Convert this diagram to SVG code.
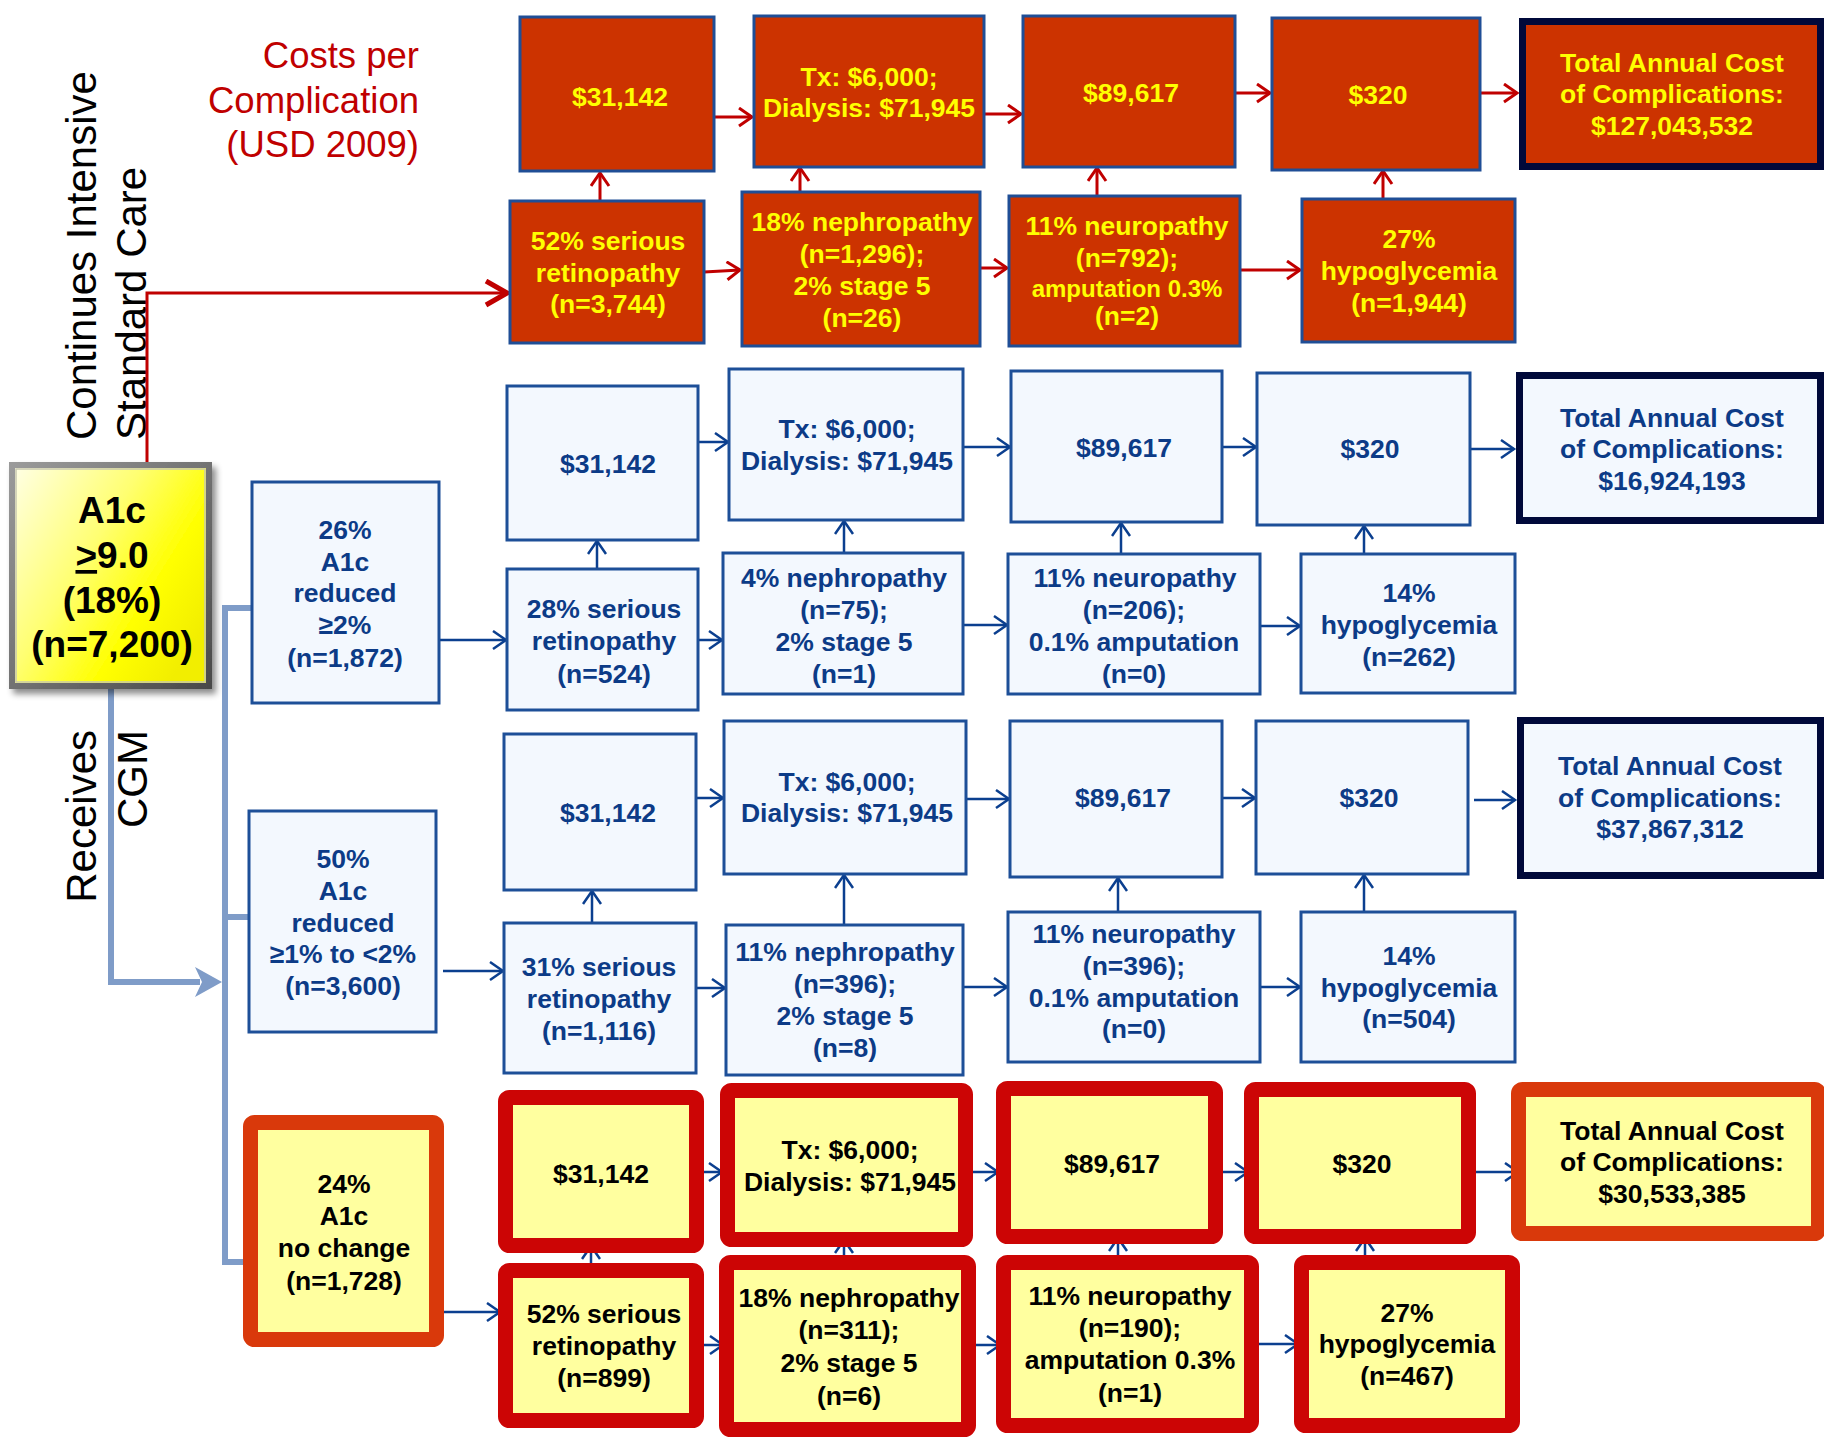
<svg xmlns="http://www.w3.org/2000/svg" width="1824" height="1440" viewBox="0 0 1824 1440">
<defs>
<style>
text{font-family:"Liberation Sans",Arial,sans-serif}
.bx text{font-weight:bold;font-size:26.5px;text-anchor:middle}
.rd rect{fill:#cc3300;stroke:#1f4e96;stroke-width:3}
.rd text{fill:#ffff00}
.rdt rect{fill:#cc3300;stroke:#00093a;stroke-width:7}
.rdt text{fill:#ffff00}
.bl rect{fill:#f3f8fe;stroke:#1d4f98;stroke-width:3}
.bl text{fill:#0c3b87}
.blt rect{fill:#f3f8fe;stroke:#00093a;stroke-width:7}
.blt text{fill:#0c3b87}
.yr rect{fill:#ffff9f;stroke:#cc0505;stroke-width:15}
.yo rect{fill:#ffff9f;stroke:#d9390b;stroke-width:15}
.yr text,.yo text{fill:#000}
.lbl{font-size:42px;fill:#000}
.cost{font-size:36.5px;fill:#c00000;text-anchor:end}
.ca{fill:none;stroke:#0b3f8f;stroke-width:2.5}
.cr{fill:none;stroke:#c00000;stroke-width:3}
.lb{fill:none;stroke:#7f9cc8;stroke-width:6}
</style>
<marker id="ab" markerUnits="userSpaceOnUse" markerWidth="18" markerHeight="22" refX="15" refY="10" orient="auto">
<path d="M2,1 L15,10 L2,19" fill="none" stroke="#0b3f8f" stroke-width="2.5"/>
</marker>
<marker id="ar" markerUnits="userSpaceOnUse" markerWidth="18" markerHeight="22" refX="15" refY="10" orient="auto">
<path d="M2,1 L15,10 L2,19" fill="none" stroke="#c00000" stroke-width="3"/>
</marker>
<marker id="arb" markerUnits="userSpaceOnUse" markerWidth="28" markerHeight="30" refX="24" refY="14" orient="auto">
<path d="M3,2 L24,14 L3,26" fill="none" stroke="#c00000" stroke-width="5"/>
</marker>
<linearGradient id="yg" x1="0" y1="0" x2="1" y2="0.7">
<stop offset="0" stop-color="#ffffe8"/>
<stop offset="0.45" stop-color="#ffff70"/>
<stop offset="0.75" stop-color="#ffff00"/>
<stop offset="1" stop-color="#f2ee00"/>
</linearGradient>
<linearGradient id="fr" x1="0" y1="0" x2="1" y2="1">
<stop offset="0" stop-color="#9a9a9a"/>
<stop offset="1" stop-color="#4a4a4a"/>
</linearGradient>
<filter id="sh" x="-10%" y="-10%" width="130%" height="130%">
<feDropShadow dx="4" dy="5" stdDeviation="3" flood-color="#000" flood-opacity="0.45"/>
</filter>
</defs>

<rect width="1824" height="1440" fill="#fff"/>

<g id="labels">
<text class="cost"><tspan x="419" y="68">Costs per</tspan><tspan x="419" y="113">Complication</tspan><tspan x="419" y="157">(USD 2009)</tspan></text>
<text class="lbl" transform="translate(96,440) rotate(-90)">Continues Intensive</text>
<text class="lbl" transform="translate(146,440) rotate(-90)">Standard Care</text>
<text class="lbl" text-anchor="end" transform="translate(96,730) rotate(-90)">Receives</text>
<text class="lbl" text-anchor="end" transform="translate(147,730) rotate(-90)">CGM</text>
</g>

<g id="connectors">
<path class="cr" d="M147,462 V293 H507" stroke-width="5" marker-end="url(#arb)"/>
<path class="lb" d="M111,689 V982 H200"/>
<polygon points="222,982 195,967 202,982 195,997" fill="#7f9cc8"/>
<path class="lb" d="M252,608 H225 V1262 H243"/>
<path class="lb" d="M225,917 H249"/>

<path class="cr" d="M714,117 H752" marker-end="url(#ar)"/>
<path class="cr" d="M984,114 H1021" marker-end="url(#ar)"/>
<path class="cr" d="M1235,93 H1270" marker-end="url(#ar)"/>
<path class="cr" d="M1480,93 H1517" marker-end="url(#ar)"/>
<path class="cr" d="M704,272 L740,270" marker-end="url(#ar)"/>
<path class="cr" d="M980,268 H1007" marker-end="url(#ar)"/>
<path class="cr" d="M1240,270 H1300" marker-end="url(#ar)"/>
<path class="cr" d="M600,201 V173" marker-end="url(#ar)"/>
<path class="cr" d="M800,192 V168" marker-end="url(#ar)"/>
<path class="cr" d="M1097,196 V168" marker-end="url(#ar)"/>
<path class="cr" d="M1383,199 V171" marker-end="url(#ar)"/>

<path class="ca" d="M698,442 H728" marker-end="url(#ab)"/>
<path class="ca" d="M963,447 H1010" marker-end="url(#ab)"/>
<path class="ca" d="M1222,447 H1256" marker-end="url(#ab)"/>
<path class="ca" d="M1470,449 H1514" marker-end="url(#ab)"/>
<path class="ca" d="M439,640 H506" marker-end="url(#ab)"/>
<path class="ca" d="M698,640 H722" marker-end="url(#ab)"/>
<path class="ca" d="M963,625 H1007" marker-end="url(#ab)"/>
<path class="ca" d="M1260,626 H1300" marker-end="url(#ab)"/>
<path class="ca" d="M597,569 V541" marker-end="url(#ab)"/>
<path class="ca" d="M844,553 V521" marker-end="url(#ab)"/>
<path class="ca" d="M1121,554 V523" marker-end="url(#ab)"/>
<path class="ca" d="M1364,554 V526" marker-end="url(#ab)"/>

<path class="ca" d="M696,798 H723" marker-end="url(#ab)"/>
<path class="ca" d="M966,799 H1009" marker-end="url(#ab)"/>
<path class="ca" d="M1222,798 H1255" marker-end="url(#ab)"/>
<path class="ca" d="M1474,800 H1515" marker-end="url(#ab)"/>
<path class="ca" d="M443,971 H503" marker-end="url(#ab)"/>
<path class="ca" d="M696,988 H725" marker-end="url(#ab)"/>
<path class="ca" d="M963,987 H1007" marker-end="url(#ab)"/>
<path class="ca" d="M1260,987 H1300" marker-end="url(#ab)"/>
<path class="ca" d="M592,923 V891" marker-end="url(#ab)"/>
<path class="ca" d="M844,925 V875" marker-end="url(#ab)"/>
<path class="ca" d="M1118,912 V878" marker-end="url(#ab)"/>
<path class="ca" d="M1364,912 V875" marker-end="url(#ab)"/>

<path class="ca" d="M700,1172 H722" marker-end="url(#ab)"/>
<path class="ca" d="M970,1172 H998" marker-end="url(#ab)"/>
<path class="ca" d="M1220,1172 H1248" marker-end="url(#ab)"/>
<path class="ca" d="M1476,1172 H1518" marker-end="url(#ab)"/>
<path class="ca" d="M436,1312 H500" marker-end="url(#ab)"/>
<path class="ca" d="M700,1345 H723" marker-end="url(#ab)"/>
<path class="ca" d="M972,1345 H1000" marker-end="url(#ab)"/>
<path class="ca" d="M1255,1344 H1298" marker-end="url(#ab)"/>
<path class="ca" d="M591,1268 V1246" marker-end="url(#ab)"/>
<path class="ca" d="M844,1260 V1240" marker-end="url(#ab)"/>
<path class="ca" d="M1118,1260 V1238" marker-end="url(#ab)"/>
<path class="ca" d="M1365,1260 V1238" marker-end="url(#ab)"/>
</g>

<g id="a1c">
<rect x="12" y="465" width="197" height="221" fill="url(#yg)" stroke="url(#fr)" stroke-width="6" filter="url(#sh)"/>
<rect x="16" y="469" width="189" height="213" fill="none" stroke="#c8c8b0" stroke-width="1.5"/>
<text font-weight="bold" font-size="37" text-anchor="middle" fill="#000"><tspan x="112" y="523">A1c</tspan><tspan x="112" y="568"><tspan text-decoration="underline">&gt;</tspan>9.0</tspan><tspan x="112" y="613">(18%)</tspan><tspan x="112" y="657">(n=7,200)</tspan></text>
</g>

<!-- Standard care: costs -->
<g id="sc-retcost" class="bx rd"><rect x="520" y="17" width="194" height="154"/><text><tspan x="620" y="106">$31,142</tspan></text></g>
<g id="sc-nephcost" class="bx rd"><rect x="754" y="16" width="230" height="151"/><text><tspan x="869" y="86">Tx: $6,000;</tspan><tspan x="869" y="117">Dialysis: $71,945</tspan></text></g>
<g id="sc-neurcost" class="bx rd"><rect x="1023" y="16" width="212" height="151"/><text><tspan x="1131" y="102">$89,617</tspan></text></g>
<g id="sc-hypocost" class="bx rd"><rect x="1272" y="18" width="208" height="152"/><text><tspan x="1378" y="104">$320</tspan></text></g>
<g id="sc-total" class="bx rdt"><rect x="1522.5" y="21.5" width="298" height="145"/><text><tspan x="1672" y="72">Total Annual Cost</tspan><tspan x="1672" y="103">of Complications:</tspan><tspan x="1672" y="135">$127,043,532</tspan></text></g>
<!-- Standard care: complications -->
<g id="sc-ret" class="bx rd"><rect x="510" y="201" width="194" height="142"/><text><tspan x="608" y="250">52% serious</tspan><tspan x="608" y="282">retinopathy</tspan><tspan x="608" y="313">(n=3,744)</tspan></text></g>
<g id="sc-neph" class="bx rd"><rect x="742" y="192" width="238" height="154"/><text><tspan x="862" y="231">18% nephropathy</tspan><tspan x="862" y="263">(n=1,296);</tspan><tspan x="862" y="295">2% stage 5</tspan><tspan x="862" y="327">(n=26)</tspan></text></g>
<g id="sc-neur" class="bx rd"><rect x="1009" y="196" width="231" height="150"/><text><tspan x="1127" y="235">11% neuropathy</tspan><tspan x="1127" y="267">(n=792);</tspan><tspan x="1127" y="297" font-size="24">amputation 0.3%</tspan><tspan x="1127" y="325">(n=2)</tspan></text></g>
<g id="sc-hypo" class="bx rd"><rect x="1302" y="199" width="213" height="143"/><text><tspan x="1409" y="248">27%</tspan><tspan x="1409" y="280">hypoglycemia</tspan><tspan x="1409" y="312">(n=1,944)</tspan></text></g>

<!-- 26% group -->
<g id="g26" class="bx bl"><rect x="252" y="482" width="187" height="221"/><text><tspan x="345" y="539">26%</tspan><tspan x="345" y="571">A1c</tspan><tspan x="345" y="602">reduced</tspan><tspan x="345" y="634">≥2%</tspan><tspan x="345" y="667">(n=1,872)</tspan></text></g>
<g id="g26-retcost" class="bx bl"><rect x="507" y="386" width="191" height="154"/><text><tspan x="608" y="473">$31,142</tspan></text></g>
<g id="g26-nephcost" class="bx bl"><rect x="729" y="369" width="234" height="151"/><text><tspan x="847" y="438">Tx: $6,000;</tspan><tspan x="847" y="470">Dialysis: $71,945</tspan></text></g>
<g id="g26-neurcost" class="bx bl"><rect x="1011" y="371" width="211" height="151"/><text><tspan x="1124" y="457">$89,617</tspan></text></g>
<g id="g26-hypocost" class="bx bl"><rect x="1257" y="373" width="213" height="152"/><text><tspan x="1370" y="458">$320</tspan></text></g>
<g id="g26-total" class="bx blt"><rect x="1519.5" y="375.5" width="301" height="145"/><text><tspan x="1672" y="427">Total Annual Cost</tspan><tspan x="1672" y="458">of Complications:</tspan><tspan x="1672" y="490">$16,924,193</tspan></text></g>
<g id="g26-ret" class="bx bl"><rect x="507" y="569" width="191" height="141"/><text><tspan x="604" y="618">28% serious</tspan><tspan x="604" y="650">retinopathy</tspan><tspan x="604" y="683">(n=524)</tspan></text></g>
<g id="g26-neph" class="bx bl"><rect x="723" y="553" width="240" height="141"/><text><tspan x="844" y="587">4% nephropathy</tspan><tspan x="844" y="619">(n=75);</tspan><tspan x="844" y="651">2% stage 5</tspan><tspan x="844" y="683">(n=1)</tspan></text></g>
<g id="g26-neur" class="bx bl"><rect x="1008" y="554" width="252" height="140"/><text><tspan x="1135" y="587">11% neuropathy</tspan><tspan x="1134" y="619">(n=206);</tspan><tspan x="1134" y="651">0.1% amputation</tspan><tspan x="1134" y="683">(n=0)</tspan></text></g>
<g id="g26-hypo" class="bx bl"><rect x="1301" y="554" width="214" height="139"/><text><tspan x="1409" y="602">14%</tspan><tspan x="1409" y="634">hypoglycemia</tspan><tspan x="1409" y="666">(n=262)</tspan></text></g>

<!-- 50% group -->
<g id="g50" class="bx bl"><rect x="249" y="811" width="187" height="221"/><text><tspan x="343" y="868">50%</tspan><tspan x="343" y="900">A1c</tspan><tspan x="343" y="932">reduced</tspan><tspan x="343" y="963">≥1% to &lt;2%</tspan><tspan x="343" y="995">(n=3,600)</tspan></text></g>
<g id="g50-retcost" class="bx bl"><rect x="504" y="734" width="192" height="156"/><text><tspan x="608" y="822">$31,142</tspan></text></g>
<g id="g50-nephcost" class="bx bl"><rect x="724" y="721" width="242" height="153"/><text><tspan x="847" y="791">Tx: $6,000;</tspan><tspan x="847" y="822">Dialysis: $71,945</tspan></text></g>
<g id="g50-neurcost" class="bx bl"><rect x="1010" y="721" width="212" height="156"/><text><tspan x="1123" y="807">$89,617</tspan></text></g>
<g id="g50-hypocost" class="bx bl"><rect x="1256" y="721" width="212" height="153"/><text><tspan x="1369" y="807">$320</tspan></text></g>
<g id="g50-total" class="bx blt"><rect x="1520.5" y="720.5" width="300" height="155"/><text><tspan x="1670" y="775">Total Annual Cost</tspan><tspan x="1670" y="807">of Complications:</tspan><tspan x="1670" y="838">$37,867,312</tspan></text></g>
<g id="g50-ret" class="bx bl"><rect x="504" y="923" width="192" height="150"/><text><tspan x="599" y="976">31% serious</tspan><tspan x="599" y="1008">retinopathy</tspan><tspan x="599" y="1040">(n=1,116)</tspan></text></g>
<g id="g50-neph" class="bx bl"><rect x="726" y="925" width="237" height="150"/><text><tspan x="845" y="961">11% nephropathy</tspan><tspan x="845" y="993">(n=396);</tspan><tspan x="845" y="1025">2% stage 5</tspan><tspan x="845" y="1057">(n=8)</tspan></text></g>
<g id="g50-neur" class="bx bl"><rect x="1008" y="912" width="252" height="150"/><text><tspan x="1134" y="943">11% neuropathy</tspan><tspan x="1134" y="975">(n=396);</tspan><tspan x="1134" y="1007">0.1% amputation</tspan><tspan x="1134" y="1038">(n=0)</tspan></text></g>
<g id="g50-hypo" class="bx bl"><rect x="1301" y="912" width="214" height="150"/><text><tspan x="1409" y="965">14%</tspan><tspan x="1409" y="997">hypoglycemia</tspan><tspan x="1409" y="1028">(n=504)</tspan></text></g>

<!-- 24% group -->
<g id="g24" class="bx yo"><rect x="250.5" y="1122.5" width="186" height="217" rx="4"/><text><tspan x="344" y="1193">24%</tspan><tspan x="344" y="1225">A1c</tspan><tspan x="344" y="1257">no change</tspan><tspan x="344" y="1290">(n=1,728)</tspan></text></g>
<g id="g24-retcost" class="bx yr"><rect x="505.5" y="1097.5" width="191" height="148" rx="4"/><text><tspan x="601" y="1183">$31,142</tspan></text></g>
<g id="g24-nephcost" class="bx yr"><rect x="727.5" y="1090.5" width="238" height="149" rx="4"/><text><tspan x="850" y="1159">Tx: $6,000;</tspan><tspan x="850" y="1191">Dialysis: $71,945</tspan></text></g>
<g id="g24-neurcost" class="bx yr"><rect x="1003.5" y="1088.5" width="212" height="148" rx="4"/><text><tspan x="1112" y="1173">$89,617</tspan></text></g>
<g id="g24-hypocost" class="bx yr"><rect x="1251.5" y="1089.5" width="217" height="147" rx="4"/><text><tspan x="1362" y="1173">$320</tspan></text></g>
<g id="g24-total" class="bx yo"><rect x="1518.5" y="1089.5" width="300" height="144" rx="4"/><text><tspan x="1672" y="1140">Total Annual Cost</tspan><tspan x="1672" y="1171">of Complications:</tspan><tspan x="1672" y="1203">$30,533,385</tspan></text></g>
<g id="g24-ret" class="bx yr"><rect x="505.5" y="1270.5" width="191" height="150" rx="4"/><text><tspan x="604" y="1323">52% serious</tspan><tspan x="604" y="1355">retinopathy</tspan><tspan x="604" y="1387">(n=899)</tspan></text></g>
<g id="g24-neph" class="bx yr"><rect x="726.5" y="1262.5" width="242" height="167" rx="4"/><text><tspan x="849" y="1307">18% nephropathy</tspan><tspan x="849" y="1339">(n=311);</tspan><tspan x="849" y="1372">2% stage 5</tspan><tspan x="849" y="1405">(n=6)</tspan></text></g>
<g id="g24-neur" class="bx yr"><rect x="1003.5" y="1262.5" width="248" height="163" rx="4"/><text><tspan x="1130" y="1305">11% neuropathy</tspan><tspan x="1130" y="1337">(n=190);</tspan><tspan x="1130" y="1369">amputation 0.3%</tspan><tspan x="1130" y="1402">(n=1)</tspan></text></g>
<g id="g24-hypo" class="bx yr"><rect x="1301.5" y="1262.5" width="211" height="163" rx="4"/><text><tspan x="1407" y="1322">27%</tspan><tspan x="1407" y="1353">hypoglycemia</tspan><tspan x="1407" y="1385">(n=467)</tspan></text></g>
</svg>
